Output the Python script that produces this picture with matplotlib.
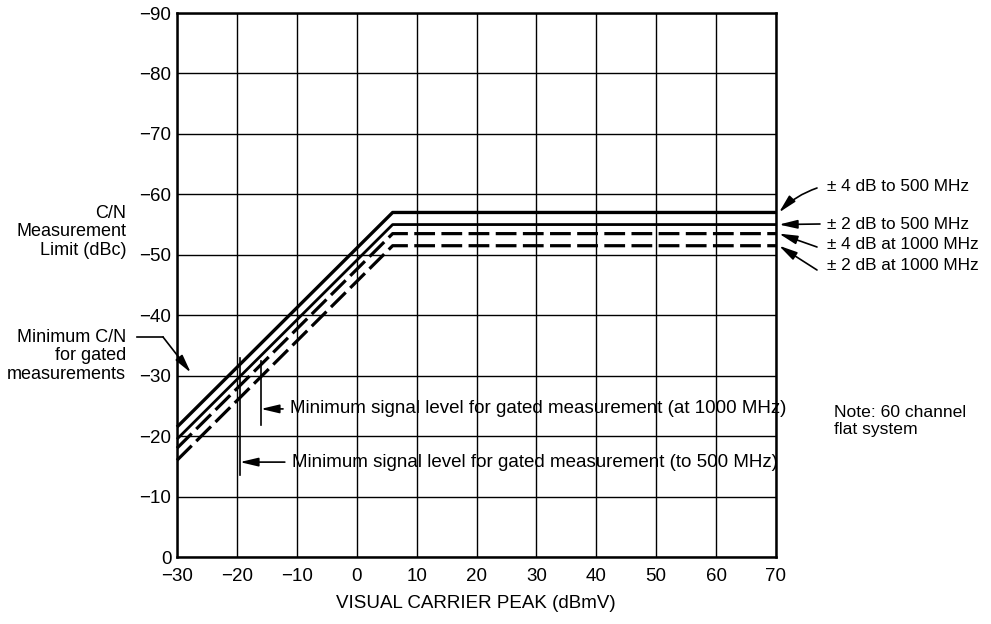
import matplotlib
matplotlib.use("Agg")
import matplotlib.pyplot as plt
from matplotlib.lines import Line2D

plt.rcParams['font.family'] = ['Liberation Sans', 'DejaVu Sans']

# break points of the limit curves (dBmV)
x_pts = [-30, 6, 70]
pm4_500 = [-21.5, -57, -57]
pm2_500 = [-19.5, -55, -55]
pm4_1000 = [-18, -53.5, -53.5]
pm2_1000 = [-16, -51.5, -51.5]

curve_labels = ['\u00b1 4 dB to 500 MHz', '\u00b1 2 dB to 500 MHz',
                '\u00b1 4 dB at 1000 MHz', '\u00b1 2 dB at 1000 MHz']

min_cn = -30
gate_500_x = -19.5
gate_500_span = [-33, -13.5]
gate_1000_x = -16
gate_1000_span = [-32.5, -21.8]

x_ticks = [-30, -20, -10, 0, 10, 20, 30, 40, 50, 60, 70]
y_ticks = [0, -10, -20, -30, -40, -50, -60, -70, -80, -90]

W, H = 991, 624
FS = 13.5


def fp(x, y):
    # pixel position -> figure fraction
    return (x / W, 1 - y / H)


fig = plt.figure(figsize=(9.91, 6.24), dpi=100)
ax = fig.add_axes([177 / W, 67 / H, 599 / W, 544 / H])

ax.set_xlim(-30, 70)
ax.set_ylim(0, -90)
ax.set_xticks(x_ticks)
ax.set_yticks(y_ticks)
ax.grid(True, color='black', lw=1.0)
ax.set_axisbelow(True)
ax.tick_params(length=0, labelsize=FS)
ax.tick_params(axis='x', pad=8)
ax.tick_params(axis='y', pad=4)
for s in ax.spines.values():
    s.set_linewidth(1.8)

ax.plot(x_pts, pm4_500, color='black', lw=2.4, solid_capstyle='butt', clip_on=False)
ax.plot(x_pts, pm2_500, color='black', lw=2.0, solid_capstyle='butt', clip_on=False)
ax.plot(x_pts, pm4_1000, color='black', lw=2.3, ls=(0, (6.5, 2.0)), clip_on=False)
ax.plot(x_pts, pm2_1000, color='black', lw=2.3, ls=(0, (6.5, 2.0)), clip_on=False)

# minimum signal level markers
ax.plot([gate_500_x, gate_500_x], gate_500_span, color='black', lw=1.2)
ax.plot([gate_1000_x, gate_1000_x], gate_1000_span, color='black', lw=1.2)

arrow = dict(arrowstyle='-|>,head_length=0.55,head_width=0.13', color='black',
             lw=1.2, shrinkA=0, shrinkB=0, mutation_scale=20)

ax.annotate('', xy=(gate_500_x, -15.7), xytext=(-12, -15.7), arrowprops=arrow)
ax.text(-10.8, -15.7, 'Minimum signal level for gated measurement (to 500 MHz)',
        fontsize=FS, va='center', ha='left')
ax.annotate('', xy=(gate_1000_x, -24.5), xytext=(-12.3, -24.5), arrowprops=arrow)
ax.text(-11.2, -24.5, 'Minimum signal level for gated measurement (at 1000 MHz)',
        fontsize=FS, va='center', ha='left')

# right-hand labels with arrows
levels = [pm4_500[-1], pm2_500[-1], pm4_1000[-1], pm2_1000[-1]]
label_y = [186, 224, 245, 266]
arrow_start = [(817, 188), (820, 224), (817, 247), (817, 270)]
rads = [0.12, 0, 0, 0]
for lab, lvl, ly, st, rad in zip(curve_labels, levels, label_y, arrow_start, rads):
    fig.text(*fp(827, ly), lab, fontsize=12.4, va='center', ha='left')
    a = dict(arrow)
    a['connectionstyle'] = 'arc3,rad=%s' % rad
    ax.annotate('', xy=(70.5, lvl), xycoords='data', xytext=fp(*st),
                textcoords='figure fraction', arrowprops=a, annotation_clip=False)

# y axis label
fig.text(*fp(126, 232), 'C/N\nMeasurement\nLimit (dBc)', fontsize=13.0,
         ha='right', va='center', linespacing=1.12)

# minimum C/N label with leader
fig.text(*fp(126, 356), 'Minimum C/N\nfor gated\nmeasurements', fontsize=13.0,
         ha='right', va='center', linespacing=1.12)
fig.add_artist(Line2D([137 / W, 163 / W], [1 - 337 / H, 1 - 337 / H],
                      color='black', lw=1.2))
ax.annotate('', xy=(-27.7, min_cn - 0.5), xycoords='data', xytext=fp(163, 337),
            textcoords='figure fraction', arrowprops=arrow, annotation_clip=False)

fig.text(*fp(834, 421), 'Note: 60 channel\nflat system', fontsize=12.6,
         ha='left', va='center', linespacing=1.15)

fig.text(*fp(476, 604), 'VISUAL CARRIER PEAK (dBmV)', fontsize=FS,
         ha='center', va='center')

fig.savefig('out.png', dpi=100)
